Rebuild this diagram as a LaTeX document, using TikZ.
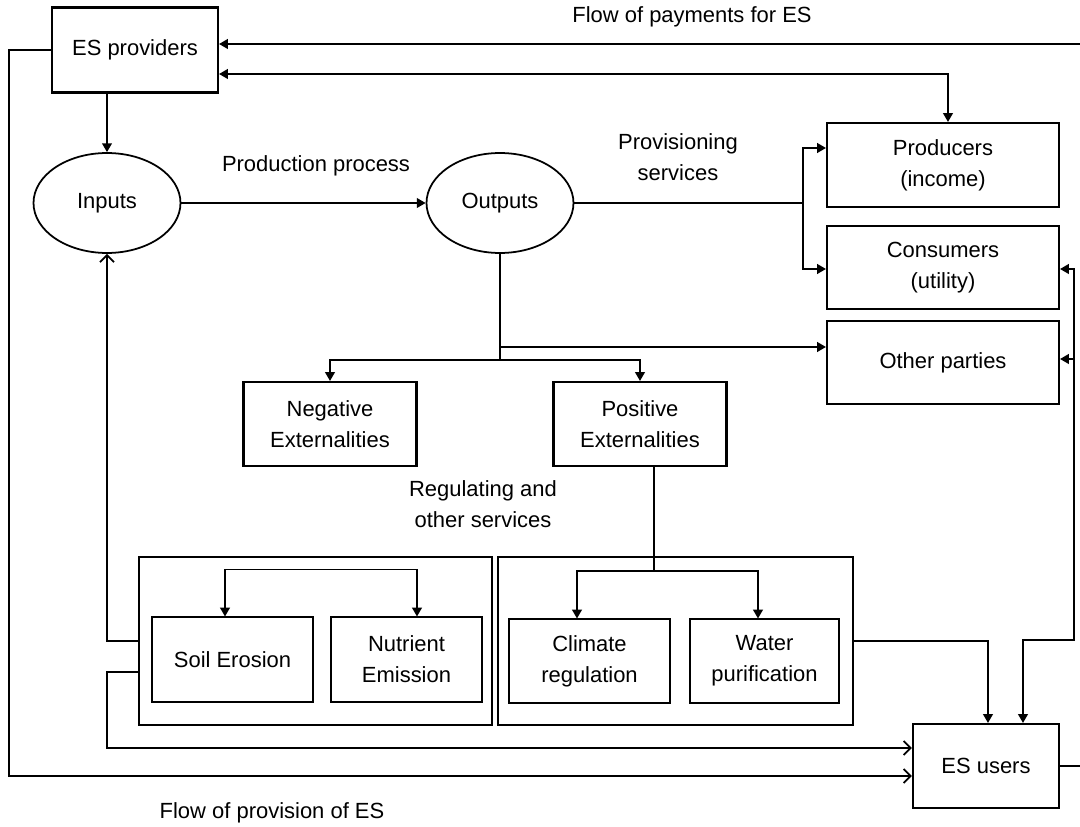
\documentclass[tikz,border=0pt]{standalone}
\usepackage{fontspec}
\setmainfont{Liberation Sans}
\usetikzlibrary{arrows.meta, shapes.geometric, positioning}

\begin{document}
\begin{tikzpicture}[x=0.02cm, y=-0.02cm,
        font=\fontsize{12.5}{17.5}\selectfont,
        box/.style={draw, line width=1.2pt, align=center, inner sep=0pt},
        inbox/.style={draw, line width=0.6pt, align=center, inner sep=0pt, minimum height=1.7cm},
        oval/.style={draw, ellipse, line width=1pt, inner sep=0pt, minimum width=2.94cm, minimum height=2cm},
        flow/.style={line width=1pt},
        tri/.style={flow, -{Triangle[length=5pt,width=5.5pt]}},
        bitri/.style={flow, {Triangle[length=5pt,width=5.5pt]}-{Triangle[length=5pt,width=5.5pt]}},
        barb/.style={flow, -{Straight Barb[length=4pt,width=8pt]}}]
        \useasboundingbox (0,0) rectangle (1080,827);
        \clip (0,0) rectangle (1080,827);
        % actors
        \node[box, minimum width=3.32cm, minimum height=1.7cm] (prov) at (135,50) {ES providers};
        \node[box, minimum width=4.64cm, minimum height=1.68cm] (prod) at (943,165) {Producers\\(income)};
        \node[box, minimum width=4.64cm, minimum height=1.66cm] (cons) at (943,267.5) {Consumers\\(utility)};
        \node[box, minimum width=4.64cm, minimum height=1.66cm] (other) at (943,362.5) {Other parties};
        \node[box, minimum width=2.92cm, minimum height=1.68cm] (users) at (986,766) {ES users};
        % production
        \node[oval] (inputs) at (107,203) {Inputs};
        \node[oval] (outputs) at (500,203) {Outputs};
        \node[box, minimum width=3.46cm, minimum height=1.68cm] (neg) at (330,424) {Negative\\Externalities};
        \node[box, minimum width=3.46cm, minimum height=1.68cm] (pos) at (640,424) {Positive\\Externalities};
        % services
        \node[box, minimum width=7.06cm, minimum height=3.36cm] (leftbox) at (315.5,641) {};
        \node[box, minimum width=7.1cm, minimum height=3.36cm] (rightbox) at (675.5,641) {};
        \node[inbox, minimum width=3.22cm] (soil) at (232.5,659.5) {Soil Erosion};
        \node[inbox, minimum width=3.02cm] (nutr) at (406.5,659.5) {Nutrient\\Emission};
        \node[inbox, minimum width=3.22cm, minimum height=1.68cm] (clim) at (589.5,661) {Climate\\regulation};
        \node[inbox, minimum width=2.98cm, minimum height=1.68cm] (water) at (764.5,661) {Water\\purification};
        % labels
        \node (paylab) at (692,17) {Flow of payments for ES};
        \node (prodlab) at (316,166) {Production process};
        \node[align=center] (provlab) at (678,157) {Provisioning\\services};
        \node[align=center] (reglab) at (483,504) {Regulating and\\other services};
        \node (supplab) at (272,813) {Flow of provision of ES};
        \coordinate (rim) at (1086,44);
        \coordinate (split) at (803,203);
        \coordinate (fork) at (500,360);
        \coordinate (posfork) at (654,571);
        \coordinate (outer) at (9,776);
        % connectors
        \draw[tri] (users.east) -| (rim) -- (prov.east |- rim);
        \draw[bitri] (prov.east |- 0,74) -| (prod.north -| 948,0);
        \draw[barb] (prov.west) -| (outer) -- (users.west |- outer);
        \draw[tri] (inputs.north |- prov.south) -- (inputs.north);
        \draw[tri] (inputs) -- (outputs);
        \draw[flow] (outputs.east) -- (split);
        \draw[tri] (split) |- (prod.west |- 0,148);
        \draw[tri] (split) |- (cons.west |- 0,269);
        \draw[flow] (outputs.south) -- (fork);
        \draw[tri] (outputs.south |- 0,347) -- (other.west |- 0,347);
        \draw[tri] (fork) -| (neg.north);
        \draw[tri] (fork) -| (pos.north);
        \draw[flow] (pos.south -| posfork) -- (posfork);
        \draw[tri] (posfork) -| (clim.north -| 577,0);
        \draw[tri] (posfork) -| (water.north -| 758,0);
        \draw[bitri] (soil.north -| 225,0) -- ++(0,-47) -| (nutr.north -| 417,0);
        \draw[barb] (leftbox.west) -| (inputs.south);
        \draw[barb] (leftbox.west |- 0,672) -| (107,748) -- (users.west |- 0,748);
        \draw[tri] (rightbox.east) -| (users.north -| 988,0);
        \draw[bitri] (users.north -| 1023,0) |- (1074,640) |- (cons.east |- 0,269);
        \draw[tri] (1074,359) -- (other.east |- 0,359);
    \end{tikzpicture}
\end{document}
